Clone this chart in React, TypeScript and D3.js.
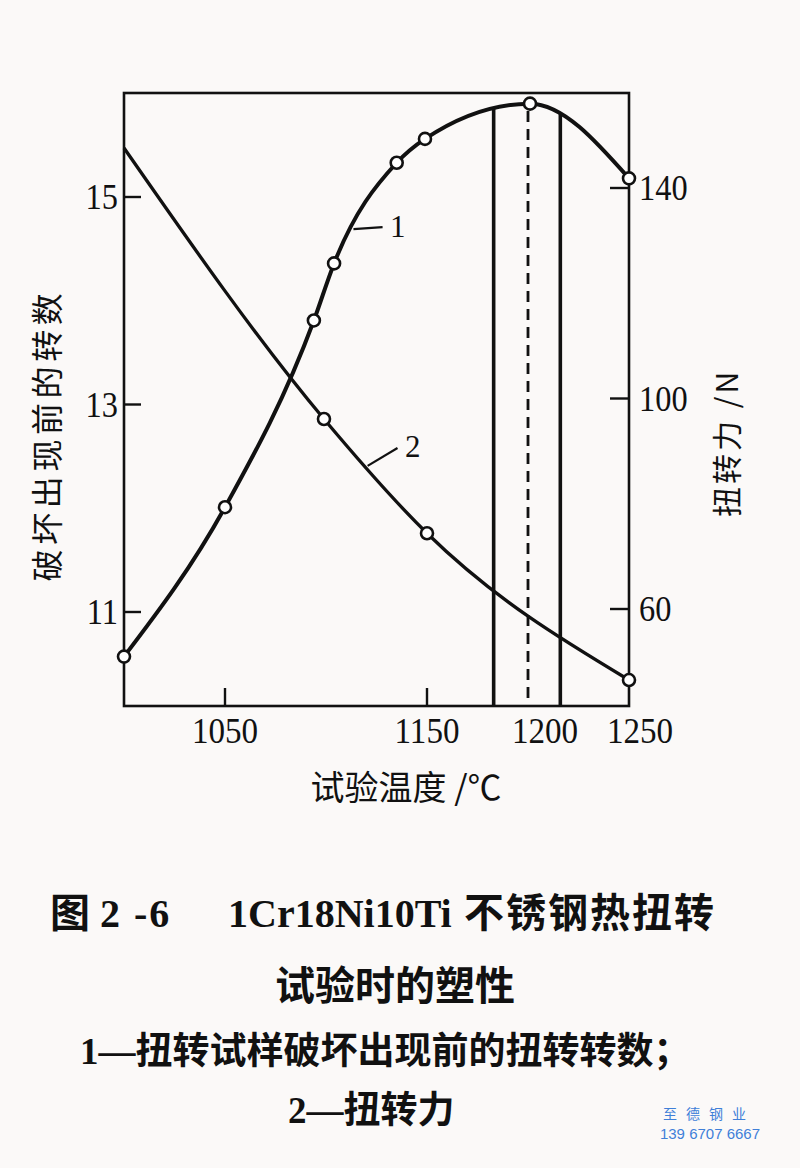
import * as d3 from "d3";

// curve 1: turns before failure (left axis)
const TEMPS_TURNS = [1000, 1050, 1094, 1104, 1135, 1149, 1201, 1250];
const TURNS = [10.57, 12.01, 13.81, 14.36, 15.33, 15.56, 15.9, 15.18];

// curve 2: torsion force, N (right axis); first point has no marker
const TEMPS_FORCE = [1000, 1099, 1150, 1250];
const FORCE = [147.6, 96.1, 74.4, 46.5];
const FORCE_MARKED = [false, true, true, true];

const X_TICKS = [1050, 1150, 1200, 1250];
const X_TICK_MARKS = [1050, 1150];
const LEFT_TICKS = [11, 13, 15];
const RIGHT_TICKS = [60, 100, 140];

// optimum deformation window and its middle
const RANGE_LINES = [1183, 1216];
const OPT_LINE = 1200;

const W = 800;
const H = 1168;
const PLOT = { left: 124, right: 629, top: 93, bottom: 706 };

const SERIF = "'Liberation Serif', 'Noto Sans CJK SC', serif";
const CJK = "'Noto Sans CJK SC', sans-serif";

export default function App() {
    const x = d3.scaleLinear().domain([1000, 1250]).range([PLOT.left, PLOT.right]);
    const yL = d3.scaleLinear().domain([11, 15]).range([612, 197]);
    const yR = d3.scaleLinear().domain([60, 140]).range([609, 188]);

    const turns = TEMPS_TURNS.map((t, i) => [t, TURNS[i]] as [number, number]);
    const force = TEMPS_FORCE.map((t, i) => [t, FORCE[i]] as [number, number]);

    const curve = d3.curveMonotoneX;
    const lineL = d3.line<[number, number]>().x((d) => x(d[0])).y((d) => yL(d[1])).curve(curve);
    const lineR = d3.line<[number, number]>().x((d) => x(d[0])).y((d) => yR(d[1])).curve(curve);
    // region under curve 1, used to stop the vertical lines at the curve
    const under = d3
        .area<[number, number]>()
        .x((d) => x(d[0]))
        .y0(PLOT.bottom)
        .y1((d) => yL(d[1]))
        .curve(curve);

    // small nudges so the crowded labels at the right don't collide
    const xLabelDx: Record<number, number> = { 1200: 17, 1250: 11 };

    return (
        <svg width={W} height={H} style={{ position: "absolute", left: 0, top: 0 }}>
            <rect width={W} height={H} fill="#fbf9f8" />
            <defs>
                <clipPath id="under1">
                    <path d={under(turns) ?? ""} />
                </clipPath>
            </defs>

            {/* frame */}
            <rect
                x={PLOT.left}
                y={PLOT.top}
                width={PLOT.right - PLOT.left}
                height={PLOT.bottom - PLOT.top}
                fill="none"
                stroke="#111"
                strokeWidth={2.6}
            />

            {/* vertical range lines */}
            <g clipPath="url(#under1)" stroke="#111">
                {RANGE_LINES.map((t) => (
                    <line key={t} x1={x(t)} x2={x(t)} y1={PLOT.top} y2={PLOT.bottom} strokeWidth={3.6} />
                ))}
                <line x1={x(OPT_LINE)} x2={x(OPT_LINE)} y1={PLOT.top} y2={PLOT.bottom} strokeWidth={2.8} strokeDasharray="11 7" />
            </g>

            {/* curves */}
            <path d={lineL(turns) ?? ""} fill="none" stroke="#111" strokeWidth={4} />
            <path d={lineR(force) ?? ""} fill="none" stroke="#111" strokeWidth={3.3} />

            {/* markers */}
            {turns.map((d, i) => (
                <circle key={"t" + i} cx={x(d[0])} cy={yL(d[1])} r={6} fill="#fff" stroke="#111" strokeWidth={2.6} />
            ))}
            {force.map((d, i) =>
                FORCE_MARKED[i] ? (
                    <circle key={"f" + i} cx={x(d[0])} cy={yR(d[1])} r={6} fill="#fff" stroke="#111" strokeWidth={2.6} />
                ) : null
            )}

            {/* ticks */}
            <g stroke="#111" strokeWidth={2.4}>
                {LEFT_TICKS.map((v) => (
                    <line key={v} x1={PLOT.left} x2={PLOT.left + 17} y1={yL(v)} y2={yL(v)} />
                ))}
                {RIGHT_TICKS.map((v) => (
                    <line key={v} x1={PLOT.right} x2={PLOT.right - 19} y1={yR(v)} y2={yR(v)} />
                ))}
                {X_TICK_MARKS.map((v) => (
                    <line key={v} x1={x(v)} x2={x(v)} y1={PLOT.bottom} y2={PLOT.bottom - 18} />
                ))}
            </g>

            {/* tick labels */}
            <g fontFamily={SERIF} fontSize={36} fill="#111">
                {LEFT_TICKS.map((v) => (
                    <text key={v} transform={`translate(118,${yL(v) + 12}) scale(0.9,1)`} textAnchor="end">
                        {v}
                    </text>
                ))}
                {RIGHT_TICKS.map((v) => (
                    <text key={v} transform={`translate(639,${yR(v) + 12}) scale(0.9,1)`} textAnchor="start">
                        {v}
                    </text>
                ))}
                {X_TICKS.map((v) => (
                    <text key={v} transform={`translate(${x(v) + (xLabelDx[v] ?? 0)},743) scale(0.92,1)`} textAnchor="middle">
                        {v}
                    </text>
                ))}
            </g>

            {/* curve labels with leaders */}
            <g stroke="#111" strokeWidth={2.2}>
                <line x1={x(1113.6)} y1={yL(14.69)} x2={x(1128)} y2={yL(14.71)} />
                <line x1={x(1120.6)} y1={yR(87.2)} x2={x(1135.4)} y2={yR(90.6)} />
            </g>
            <g fontFamily={SERIF} fontSize={31} fill="#111" textAnchor="middle">
                <text x={x(1135.5)} y={yL(14.71) + 10}>1</text>
                <text x={x(1143)} y={yR(90.6) + 9}>2</text>
            </g>

            {/* axis titles */}
            <g fontFamily={CJK} fill="#111">
                <text x={406} y={800} fontSize={34} textAnchor="middle">
                    试验温度 /℃
                </text>
                <text transform="translate(59,435) rotate(-90)" fontSize={32} letterSpacing={4.6} textAnchor="middle">
                    破坏出现前的转数
                </text>
                <text transform="translate(738,443) rotate(-90)" fontSize={30} letterSpacing={3} textAnchor="middle">
                    扭转力 /N
                </text>
            </g>

            {/* caption */}
            <g fontFamily={SERIF} fontWeight={700} fill="#111">
                <text x={50} y={927} fontSize={40}>图</text>
                <text x={100} y={927} fontSize={40} letterSpacing={2}>
                    2 -6
                </text>
                <text x={228} y={927} fontSize={40}>
                    1Cr18Ni10Ti
                </text>
                <text x={464} y={927} fontSize={40} letterSpacing={2}>
                    不锈钢热扭转
                </text>
                <text x={395} y={1000} fontSize={40} textAnchor="middle">
                    试验时的塑性
                </text>
                <text x={80} y={1064} fontSize={37}>
                    1—扭转试样破坏出现前的扭转转数；
                </text>
                <text x={288} y={1123} fontSize={37}>
                    2—扭转力
                </text>
            </g>

            {/* watermark */}
            <g fill="#3f7fd8" textAnchor="middle">
                <text x={709} y={1119} fontSize={14} fontFamily={CJK} letterSpacing={9}>
                    至德钢业
                </text>
                <text x={710} y={1139} fontSize={15} fontFamily="'Liberation Sans', sans-serif">
                    139 6707 6667
                </text>
            </g>
        </svg>
    );
}
